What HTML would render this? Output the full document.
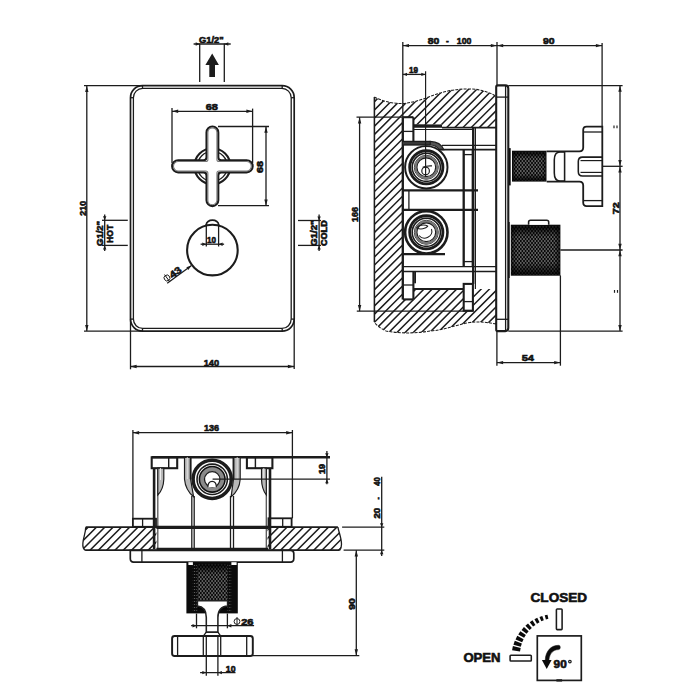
<!DOCTYPE html>
<html><head><meta charset="utf-8"><style>
html,body{margin:0;padding:0;background:#fff;width:700px;height:700px;overflow:hidden}
svg{display:block}
text{font-family:"Liberation Sans",sans-serif;fill:#111;stroke:#111;stroke-width:0.6px}
</style></head><body>
<svg width="700" height="700" viewBox="0 0 700 700">
<defs>
<pattern id="knurl" x="0" y="0" width="3.2" height="4.0" patternUnits="userSpaceOnUse">
<rect width="3.2" height="4.0" fill="#0a0a0a"/>
<ellipse cx="0.8" cy="1.0" rx="0.85" ry="0.7" fill="#b4b4b4"/>
<ellipse cx="2.4" cy="3.0" rx="0.85" ry="0.7" fill="#b4b4b4"/>
</pattern>
<linearGradient id="kshadeV" x1="0" y1="0" x2="0" y2="1">
<stop offset="0" stop-color="#000" stop-opacity="0.85"/>
<stop offset="0.22" stop-color="#000" stop-opacity="0.1"/>
<stop offset="0.75" stop-color="#000" stop-opacity="0.1"/>
<stop offset="1" stop-color="#000" stop-opacity="0.85"/>
</linearGradient>
<linearGradient id="kshadeH" x1="0" y1="0" x2="1" y2="0">
<stop offset="0" stop-color="#000" stop-opacity="0.5"/>
<stop offset="0.12" stop-color="#000" stop-opacity="0"/>
<stop offset="0.88" stop-color="#000" stop-opacity="0"/>
<stop offset="1" stop-color="#000" stop-opacity="0.5"/>
</linearGradient>
<pattern id="knurl2" x="0" y="0" width="2.2" height="3.0" patternUnits="userSpaceOnUse">
<rect width="2.2" height="3.0" fill="#0b0b0b"/>
<circle cx="1.1" cy="1.5" r="0.5" fill="#888"/>
</pattern>
</defs>
<rect width="700" height="700" fill="#fff"/>
<rect x="130.50" y="85.70" width="163.70" height="245.40" rx="12" stroke="#1c1c1c" stroke-width="1.69" fill="none"/>
<rect x="133.40" y="88.40" width="157.80" height="240.00" rx="9.3" stroke="#1c1c1c" stroke-width="1.30" fill="none"/>
<line x1="142.50" y1="85.70" x2="142.50" y2="88.40" stroke="#1c1c1c" stroke-width="1.30"/>
<line x1="130.50" y1="97.70" x2="133.40" y2="97.70" stroke="#1c1c1c" stroke-width="1.30"/>
<line x1="282.20" y1="85.70" x2="282.20" y2="88.40" stroke="#1c1c1c" stroke-width="1.30"/>
<line x1="294.20" y1="97.70" x2="291.20" y2="97.70" stroke="#1c1c1c" stroke-width="1.30"/>
<line x1="142.50" y1="331.10" x2="142.50" y2="328.40" stroke="#1c1c1c" stroke-width="1.30"/>
<line x1="130.50" y1="319.10" x2="133.40" y2="319.10" stroke="#1c1c1c" stroke-width="1.30"/>
<line x1="282.20" y1="331.10" x2="282.20" y2="328.40" stroke="#1c1c1c" stroke-width="1.30"/>
<line x1="294.20" y1="319.10" x2="291.20" y2="319.10" stroke="#1c1c1c" stroke-width="1.30"/>
<line x1="84.00" y1="85.70" x2="142.50" y2="85.70" stroke="#1c1c1c" stroke-width="1.30"/>
<line x1="84.00" y1="331.10" x2="142.50" y2="331.10" stroke="#1c1c1c" stroke-width="1.30"/>
<line x1="86.80" y1="85.70" x2="86.80" y2="331.10" stroke="#1c1c1c" stroke-width="1.30"/>
<polygon points="86.80,85.90 88.50,91.90 85.10,91.90" fill="#1c1c1c"/>
<polygon points="86.80,330.90 85.10,324.90 88.50,324.90" fill="#1c1c1c"/>
<text x="85.70" y="215.70" font-size="9" font-weight="bold" textLength="14.80" lengthAdjust="spacingAndGlyphs" transform="rotate(-90 85.70 215.70)">210</text>
<line x1="130.50" y1="319.10" x2="130.50" y2="369.30" stroke="#1c1c1c" stroke-width="1.30"/>
<line x1="294.20" y1="319.10" x2="294.20" y2="369.00" stroke="#1c1c1c" stroke-width="1.30"/>
<line x1="130.40" y1="366.50" x2="294.10" y2="366.50" stroke="#1c1c1c" stroke-width="1.30"/>
<polygon points="130.60,366.50 136.60,364.80 136.60,368.20" fill="#1c1c1c"/>
<polygon points="293.90,366.50 287.90,368.20 287.90,364.80" fill="#1c1c1c"/>
<text x="203.70" y="365.50" font-size="9.5" font-weight="bold" text-anchor="start" textLength="15.40" lengthAdjust="spacingAndGlyphs">140</text>
<line x1="199.70" y1="43.60" x2="199.70" y2="82.00" stroke="#1c1c1c" stroke-width="1.30"/>
<line x1="224.30" y1="43.60" x2="224.30" y2="82.00" stroke="#1c1c1c" stroke-width="1.30"/>
<line x1="193.60" y1="44.00" x2="230.70" y2="44.00" stroke="#1c1c1c" stroke-width="1.30"/>
<polygon points="199.70,44.00 195.70,45.70 195.70,42.30" fill="#1c1c1c"/>
<polygon points="224.30,44.00 228.30,42.30 228.30,45.70" fill="#1c1c1c"/>
<text x="199.00" y="42.50" font-size="8.6" font-weight="bold" text-anchor="start" textLength="24.60" lengthAdjust="spacingAndGlyphs">G1/2&quot;</text>
<polygon points="212.20,53.60 205.40,65.00 209.30,65.00 209.30,77.00 215.00,77.00 215.00,65.00 218.90,65.00" fill="#1c1c1c"/>
<line x1="172.00" y1="111.30" x2="252.60" y2="111.30" stroke="#1c1c1c" stroke-width="1.30"/>
<line x1="172.00" y1="108.00" x2="172.00" y2="163.00" stroke="#1c1c1c" stroke-width="1.30"/>
<line x1="252.60" y1="108.60" x2="252.60" y2="163.00" stroke="#1c1c1c" stroke-width="1.30"/>
<polygon points="172.20,111.30 178.20,109.60 178.20,113.00" fill="#1c1c1c"/>
<polygon points="252.40,111.30 246.40,113.00 246.40,109.60" fill="#1c1c1c"/>
<text x="205.70" y="110.20" font-size="9.2" font-weight="bold" text-anchor="start" textLength="12.20" lengthAdjust="spacingAndGlyphs">68</text>
<line x1="266.00" y1="126.50" x2="266.00" y2="205.70" stroke="#1c1c1c" stroke-width="1.30"/>
<line x1="218.00" y1="126.50" x2="269.00" y2="126.50" stroke="#1c1c1c" stroke-width="1.30"/>
<line x1="218.00" y1="205.70" x2="269.00" y2="205.70" stroke="#1c1c1c" stroke-width="1.30"/>
<polygon points="266.00,126.70 267.70,132.70 264.30,132.70" fill="#1c1c1c"/>
<polygon points="266.00,205.50 264.30,199.50 267.70,199.50" fill="#1c1c1c"/>
<text x="263.40" y="173.00" font-size="9.2" font-weight="bold" textLength="12.00" lengthAdjust="spacingAndGlyphs" transform="rotate(-90 263.40 173.00)">68</text>
<circle cx="212.40" cy="166.30" r="18.00" stroke="#1c1c1c" stroke-width="2.08" fill="none"/>
<circle cx="212.40" cy="166.30" r="15.00" stroke="#1c1c1c" stroke-width="1.30" fill="none"/>
<path d="M206.5,157.20000000000002 V132.4 A5.9,5.9 0 0 1 218.3,132.4 V157.20000000000002 Q218.3,160.20000000000002 221.3,160.20000000000002 H246.6 A6.1,6.1 0 0 1 246.6,172.4 H221.3 Q218.3,172.4 218.3,175.4 V200.20000000000002 A5.9,5.9 0 0 1 206.5,200.20000000000002 V175.4 Q206.5,172.4 203.5,172.4 H178.20000000000002 A6.1,6.1 0 0 1 178.20000000000002,160.20000000000002 H203.5 Q206.5,160.20000000000002 206.5,157.20000000000002 Z" stroke="#1c1c1c" stroke-width="2.08" fill="#fff" />
<path d="M207.9,159.40000000000003 V132.4 A4.5,4.5 0 0 1 216.9,132.4 V159.40000000000003 Q216.9,161.60000000000002 219.1,161.60000000000002 H246.60000000000002 A4.7,4.7 0 0 1 246.60000000000002,171.0 H219.1 Q216.9,171.0 216.9,173.2 V200.20000000000002 A4.5,4.5 0 0 1 207.9,200.20000000000002 V173.2 Q207.9,171.0 205.70000000000002,171.0 H178.2 A4.7,4.7 0 0 1 178.2,161.60000000000002 H205.70000000000002 Q207.9,161.60000000000002 207.9,159.40000000000003 Z" stroke="#777" stroke-width="1.04" fill="none" />
<circle cx="212.40" cy="250.10" r="25.30" stroke="#1c1c1c" stroke-width="2.08" fill="none"/>
<path d="M206.3,226 V224.5 A6.15,4.3 0 0 1 218.6,224.5 V226" stroke="#1c1c1c" stroke-width="1.69" fill="none" />
<line x1="206.30" y1="224.00" x2="206.30" y2="246.50" stroke="#1c1c1c" stroke-width="1.30"/>
<line x1="218.60" y1="224.00" x2="218.60" y2="246.50" stroke="#1c1c1c" stroke-width="1.30"/>
<line x1="200.60" y1="244.20" x2="224.10" y2="244.20" stroke="#1c1c1c" stroke-width="1.30"/>
<polygon points="206.30,244.20 202.30,245.90 202.30,242.50" fill="#1c1c1c"/>
<polygon points="218.60,244.20 222.60,242.50 222.60,245.90" fill="#1c1c1c"/>
<text x="207.00" y="242.50" font-size="8.6" font-weight="bold" text-anchor="start" textLength="9.00" lengthAdjust="spacingAndGlyphs">10</text>
<line x1="167.20" y1="283.20" x2="191.20" y2="265.70" stroke="#1c1c1c" stroke-width="1.30"/>
<polygon points="191.40,265.60 188.36,269.92 186.36,267.17" fill="#1c1c1c"/>
<g transform="translate(166.4,282.6) rotate(-36)"><circle cx="3.2" cy="-3.4" r="2.9" fill="none" stroke="#111" stroke-width="0.9"/><line x1="3.2" y1="-7.6" x2="3.2" y2="1.0" stroke="#111" stroke-width="0.9"/><text x="7.0" y="0.3" font-size="9.6" font-weight="bold" textLength="12.6" lengthAdjust="spacingAndGlyphs">43</text></g>
<line x1="104.70" y1="214.60" x2="104.70" y2="251.10" stroke="#1c1c1c" stroke-width="1.30"/>
<line x1="102.00" y1="220.30" x2="127.80" y2="220.30" stroke="#1c1c1c" stroke-width="1.30"/>
<line x1="102.00" y1="245.40" x2="127.80" y2="245.40" stroke="#1c1c1c" stroke-width="1.30"/>
<polygon points="104.70,220.30 103.00,216.30 106.40,216.30" fill="#1c1c1c"/>
<polygon points="104.70,245.40 106.40,249.40 103.00,249.40" fill="#1c1c1c"/>
<text x="103.30" y="246.00" font-size="8.6" font-weight="bold" textLength="25.10" lengthAdjust="spacingAndGlyphs" transform="rotate(-90 103.30 246.00)">G1/2&quot;</text>
<text x="113.50" y="242.80" font-size="8.6" font-weight="bold" textLength="17.90" lengthAdjust="spacingAndGlyphs" transform="rotate(-90 113.50 242.80)">HOT</text>
<line x1="319.10" y1="214.60" x2="319.10" y2="251.10" stroke="#1c1c1c" stroke-width="1.30"/>
<line x1="298.00" y1="220.50" x2="321.00" y2="220.50" stroke="#1c1c1c" stroke-width="1.30"/>
<line x1="298.00" y1="245.40" x2="321.00" y2="245.40" stroke="#1c1c1c" stroke-width="1.30"/>
<polygon points="319.10,220.50 317.40,216.50 320.80,216.50" fill="#1c1c1c"/>
<polygon points="319.10,245.40 320.80,249.40 317.40,249.40" fill="#1c1c1c"/>
<text x="317.10" y="246.00" font-size="8.6" font-weight="bold" textLength="25.70" lengthAdjust="spacingAndGlyphs" transform="rotate(-90 317.10 246.00)">G1/2&quot;</text>
<text x="326.80" y="246.00" font-size="8.6" font-weight="bold" textLength="25.70" lengthAdjust="spacingAndGlyphs" transform="rotate(-90 326.80 246.00)">COLD</text>
<clipPath id="wallclip"><path clip-rule="evenodd" d="M374.4,97 C380,100 390,103.5 401.4,103.5 C415,103 425,98 435.7,94.4 C447,90.5 458,88.8 471.4,88.9 C480,89.3 489,92 496.2,96.3 L496.2,324 C485,322 478,321.5 470,322.5 C455,325 445,330 430,331 C415,333.5 400,333.6 386,331 C380,328 376,325 374.4,322 Z M402.8,117.2 H413.4 V124.4 H442 V127.7 H496.2 V289 H473.2 V310.7 H463.7 V289 H413.4 V299.4 H402.8 Z"/></clipPath>
<path d="M87.14,340L347.14,80M95.31,340L355.31,80M103.48,340L363.48,80M111.65,340L371.65,80M119.82,340L379.82,80M127.99,340L387.99,80M136.16,340L396.16,80M144.33,340L404.33,80M152.50,340L412.50,80M160.67,340L420.67,80M168.84,340L428.84,80M177.01,340L437.01,80M185.18,340L445.18,80M193.35,340L453.35,80M201.52,340L461.52,80M209.69,340L469.69,80M217.86,340L477.86,80M226.03,340L486.03,80M234.20,340L494.20,80M242.37,340L502.37,80M250.54,340L510.54,80M258.71,340L518.71,80M266.88,340L526.88,80M275.05,340L535.05,80M283.22,340L543.22,80M291.39,340L551.39,80M299.56,340L559.56,80M307.73,340L567.73,80M315.90,340L575.90,80M324.07,340L584.07,80M332.24,340L592.24,80M340.41,340L600.41,80M348.58,340L608.58,80M356.75,340L616.75,80M364.92,340L624.92,80M373.09,340L633.09,80M381.26,340L641.26,80M389.43,340L649.43,80M397.60,340L657.60,80M405.77,340L665.77,80M413.94,340L673.94,80M422.11,340L682.11,80M430.28,340L690.28,80M438.45,340L698.45,80M446.62,340L706.62,80M454.79,340L714.79,80M462.96,340L722.96,80M471.13,340L731.13,80M479.30,340L739.30,80M487.47,340L747.47,80M495.64,340L755.64,80M503.81,340L763.81,80M511.98,340L771.98,80" stroke="#1c1c1c" stroke-width="1.5" clip-path="url(#wallclip)"/>
<line x1="374.40" y1="97.00" x2="374.40" y2="322.00" stroke="#1c1c1c" stroke-width="1.56"/>
<path d="M374.4,97 C380,100 390,103.5 401.4,103.5 C415,103 425,98 435.7,94.4 C447,90.5 458,88.8 471.4,88.9 C480,89.3 489,92 496.2,96.3" stroke="#1c1c1c" stroke-width="1.04" fill="none" stroke-dasharray="3 1.2"/>
<path d="M496.2,324 C485,322 478,321.5 470,322.5 C455,325 445,330 430,331 C415,333.5 400,333.6 386,331 C380,328 376,325 374.4,322" stroke="#1c1c1c" stroke-width="1.04" fill="none" stroke-dasharray="3 1.2"/>
<line x1="402.80" y1="45.60" x2="602.10" y2="45.60" stroke="#1c1c1c" stroke-width="1.30"/>
<line x1="402.80" y1="42.00" x2="402.80" y2="117.20" stroke="#1c1c1c" stroke-width="1.30"/>
<line x1="602.10" y1="42.90" x2="602.10" y2="126.70" stroke="#1c1c1c" stroke-width="1.30"/>
<polygon points="403.00,45.60 409.00,43.90 409.00,47.30" fill="#1c1c1c"/>
<polygon points="496.80,45.60 490.80,47.30 490.80,43.90" fill="#1c1c1c"/>
<polygon points="497.20,45.60 503.20,43.90 503.20,47.30" fill="#1c1c1c"/>
<polygon points="601.90,45.60 595.90,47.30 595.90,43.90" fill="#1c1c1c"/>
<text x="427.70" y="44.20" font-size="9.2" font-weight="bold" text-anchor="start" textLength="11.60" lengthAdjust="spacingAndGlyphs">80</text>
<text x="446.10" y="44.20" font-size="9.2" font-weight="bold" text-anchor="start" textLength="2.80" lengthAdjust="spacingAndGlyphs">-</text>
<text x="456.80" y="44.20" font-size="9.2" font-weight="bold" text-anchor="start" textLength="14.60" lengthAdjust="spacingAndGlyphs">100</text>
<text x="542.90" y="44.20" font-size="9.2" font-weight="bold" text-anchor="start" textLength="11.60" lengthAdjust="spacingAndGlyphs">90</text>
<line x1="402.80" y1="74.40" x2="425.50" y2="74.40" stroke="#1c1c1c" stroke-width="1.30"/>
<polygon points="403.00,74.40 407.00,72.70 407.00,76.10" fill="#1c1c1c"/>
<polygon points="425.30,74.40 421.30,76.10 421.30,72.70" fill="#1c1c1c"/>
<text x="409.00" y="72.90" font-size="8.6" font-weight="bold" text-anchor="start" textLength="9.00" lengthAdjust="spacingAndGlyphs">19</text>
<line x1="359.60" y1="117.20" x2="359.60" y2="311.20" stroke="#1c1c1c" stroke-width="1.30"/>
<line x1="356.50" y1="117.20" x2="402.80" y2="117.20" stroke="#1c1c1c" stroke-width="1.30"/>
<line x1="356.80" y1="311.20" x2="473.20" y2="311.20" stroke="#1c1c1c" stroke-width="1.30"/>
<polygon points="359.60,117.40 361.30,123.40 357.90,123.40" fill="#1c1c1c"/>
<polygon points="359.60,311.00 357.90,305.00 361.30,305.00" fill="#1c1c1c"/>
<text x="358.00" y="222.00" font-size="9" font-weight="bold" textLength="15.00" lengthAdjust="spacingAndGlyphs" transform="rotate(-90 358.00 222.00)">166</text>
<line x1="402.80" y1="117.20" x2="402.80" y2="299.50" stroke="#1c1c1c" stroke-width="2.34"/>
<line x1="402.80" y1="117.20" x2="413.40" y2="117.20" stroke="#1c1c1c" stroke-width="2.08"/>
<line x1="413.40" y1="117.20" x2="413.40" y2="141.50" stroke="#1c1c1c" stroke-width="2.08"/>
<line x1="402.80" y1="131.40" x2="413.40" y2="131.40" stroke="#1c1c1c" stroke-width="1.30"/>
<polygon points="413.40,124.30 442.00,124.50 442.00,127.70 413.40,127.70" fill="#1c1c1c"/>
<line x1="442.00" y1="127.70" x2="496.20" y2="127.70" stroke="#1c1c1c" stroke-width="1.69"/>
<line x1="413.40" y1="129.40" x2="473.20" y2="129.40" stroke="#1c1c1c" stroke-width="1.04"/>
<rect x="402.8" y="141.4" width="27.5" height="3.6" fill="#3a3a3a"/>
<line x1="402.80" y1="141.40" x2="430.30" y2="141.40" stroke="#1c1c1c" stroke-width="1.30"/>
<line x1="402.80" y1="145.00" x2="430.30" y2="145.00" stroke="#1c1c1c" stroke-width="1.30"/>
<path d="M430.3,141.4 Q440.5,141.8 443.8,149.7 L439.2,149.7 Q436.5,145.2 430.3,145.0 Z" stroke="#1c1c1c" stroke-width="1.17" fill="#555" />
<line x1="442.00" y1="145.40" x2="496.20" y2="145.40" stroke="#1c1c1c" stroke-width="1.43"/>
<line x1="439.00" y1="149.70" x2="496.20" y2="149.70" stroke="#1c1c1c" stroke-width="1.69"/>
<circle cx="426.30" cy="167.30" r="21.20" stroke="#1c1c1c" stroke-width="1.95" fill="#fff"/>
<circle cx="426.30" cy="167.30" r="16.60" stroke="#1c1c1c" stroke-width="2.86" fill="none"/>
<circle cx="426.30" cy="167.30" r="14.10" stroke="#1c1c1c" stroke-width="1.56" fill="none"/>
<circle cx="426.30" cy="167.30" r="12.00" stroke="#1c1c1c" stroke-width="0.91" fill="none"/>
<circle cx="426.30" cy="167.30" r="10.80" stroke="#777" stroke-width="1.95" fill="none"/>
<circle cx="426.30" cy="167.30" r="9.40" stroke="#1c1c1c" stroke-width="1.17" fill="none"/>
<circle cx="426.30" cy="232.30" r="21.20" stroke="#1c1c1c" stroke-width="2.60" fill="#fff"/>
<circle cx="426.30" cy="232.30" r="16.60" stroke="#1c1c1c" stroke-width="2.86" fill="none"/>
<circle cx="426.30" cy="232.30" r="14.10" stroke="#1c1c1c" stroke-width="1.56" fill="none"/>
<circle cx="426.30" cy="232.30" r="12.00" stroke="#1c1c1c" stroke-width="0.91" fill="none"/>
<circle cx="426.30" cy="232.30" r="10.80" stroke="#777" stroke-width="1.95" fill="none"/>
<circle cx="426.30" cy="232.30" r="9.40" stroke="#1c1c1c" stroke-width="1.17" fill="none"/>
<line x1="425.60" y1="71.30" x2="425.60" y2="176.00" stroke="#1c1c1c" stroke-width="1.17"/>
<circle cx="425.60" cy="170.90" r="3.80" stroke="#1c1c1c" stroke-width="1.17" fill="none"/>
<path d="M422.7,167.3 Q427,165.5 432,165.9" stroke="#1c1c1c" stroke-width="1.17" fill="none" />
<path d="M416.5,228 A7,4.2 0 0 1 428,226.2 M416.5,228 A8,5.5 0 0 0 428,226.2 M419,235.5 A7.2,7.2 0 0 0 431.5,229" stroke="#1c1c1c" stroke-width="1.04" fill="none" />
<line x1="402.80" y1="190.30" x2="478.00" y2="190.30" stroke="#1c1c1c" stroke-width="2.34"/>
<line x1="402.80" y1="209.90" x2="478.00" y2="209.90" stroke="#1c1c1c" stroke-width="2.34"/>
<line x1="408.90" y1="190.30" x2="408.90" y2="209.90" stroke="#1c1c1c" stroke-width="1.30"/>
<line x1="402.80" y1="254.20" x2="445.00" y2="254.20" stroke="#1c1c1c" stroke-width="2.34"/>
<line x1="402.80" y1="266.70" x2="496.20" y2="266.70" stroke="#1c1c1c" stroke-width="1.30"/>
<line x1="402.80" y1="271.50" x2="496.20" y2="271.50" stroke="#1c1c1c" stroke-width="1.30"/>
<line x1="413.40" y1="289.00" x2="464.00" y2="289.00" stroke="#1c1c1c" stroke-width="1.82"/>
<line x1="402.80" y1="299.40" x2="413.40" y2="299.40" stroke="#1c1c1c" stroke-width="2.08"/>
<line x1="413.40" y1="271.50" x2="413.40" y2="299.40" stroke="#1c1c1c" stroke-width="2.08"/>
<line x1="415.10" y1="271.50" x2="415.10" y2="283.30" stroke="#1c1c1c" stroke-width="1.82"/>
<line x1="402.80" y1="285.00" x2="413.40" y2="285.00" stroke="#1c1c1c" stroke-width="1.30"/>
<rect x="463.70" y="283.90" width="9.20" height="26.80" rx="0" stroke="#1c1c1c" stroke-width="2.08" fill="none"/>
<line x1="463.70" y1="301.60" x2="472.90" y2="301.60" stroke="#1c1c1c" stroke-width="1.30"/>
<line x1="463.70" y1="150.00" x2="463.70" y2="266.10" stroke="#1c1c1c" stroke-width="2.34"/>
<line x1="472.30" y1="150.00" x2="472.30" y2="266.10" stroke="#1c1c1c" stroke-width="1.30"/>
<line x1="463.70" y1="154.60" x2="472.30" y2="154.60" stroke="#1c1c1c" stroke-width="1.30"/>
<line x1="463.70" y1="261.60" x2="472.90" y2="261.60" stroke="#1c1c1c" stroke-width="1.30"/>
<line x1="473.20" y1="127.70" x2="473.20" y2="283.90" stroke="#1c1c1c" stroke-width="2.34"/>
<line x1="475.40" y1="127.70" x2="475.40" y2="289.00" stroke="#1c1c1c" stroke-width="1.17"/>
<path d="M496.2,87 Q496.2,85.4 497.8,85.4 H505.3 Q508.3,85.4 508.3,88.4 V328.1 Q508.3,331.1 505.3,331.1 H497.8 Q496.2,331.1 496.2,329.5 Z" stroke="#1c1c1c" stroke-width="2.08" fill="#fff" />
<line x1="505.60" y1="85.40" x2="505.60" y2="331.10" stroke="#1c1c1c" stroke-width="1.30"/>
<line x1="496.20" y1="97.10" x2="508.30" y2="97.10" stroke="#1c1c1c" stroke-width="1.30"/>
<line x1="496.20" y1="319.30" x2="508.30" y2="319.30" stroke="#1c1c1c" stroke-width="1.30"/>
<line x1="497.00" y1="42.00" x2="497.00" y2="85.40" stroke="#1c1c1c" stroke-width="1.30"/>
<line x1="508.30" y1="85.60" x2="622.60" y2="85.60" stroke="#1c1c1c" stroke-width="1.30"/>
<line x1="602.10" y1="166.30" x2="622.60" y2="166.30" stroke="#1c1c1c" stroke-width="1.30"/>
<line x1="560.40" y1="250.00" x2="622.60" y2="250.00" stroke="#1c1c1c" stroke-width="1.30"/>
<line x1="508.30" y1="331.10" x2="622.60" y2="331.10" stroke="#1c1c1c" stroke-width="1.30"/>
<line x1="620.00" y1="85.60" x2="620.00" y2="331.10" stroke="#1c1c1c" stroke-width="1.30"/>
<polygon points="620.00,85.80 621.70,91.80 618.30,91.80" fill="#1c1c1c"/>
<polygon points="620.00,166.10 618.30,160.10 621.70,160.10" fill="#1c1c1c"/>
<polygon points="620.00,166.50 621.70,172.50 618.30,172.50" fill="#1c1c1c"/>
<polygon points="620.00,249.80 618.30,243.80 621.70,243.80" fill="#1c1c1c"/>
<polygon points="620.00,250.20 621.70,256.20 618.30,256.20" fill="#1c1c1c"/>
<polygon points="620.00,330.90 618.30,324.90 621.70,324.90" fill="#1c1c1c"/>
<text x="618.60" y="214.30" font-size="9" font-weight="bold" textLength="12.00" lengthAdjust="spacingAndGlyphs" transform="rotate(-90 618.60 214.30)">72</text>
<line x1="614.00" y1="125.50" x2="614.00" y2="128.30" stroke="#1c1c1c" stroke-width="1.17"/>
<line x1="617.00" y1="125.50" x2="617.00" y2="128.30" stroke="#1c1c1c" stroke-width="1.17"/>
<line x1="614.50" y1="290.00" x2="614.50" y2="292.80" stroke="#1c1c1c" stroke-width="1.17"/>
<line x1="617.50" y1="290.00" x2="617.50" y2="292.80" stroke="#1c1c1c" stroke-width="1.17"/>
<line x1="496.90" y1="331.00" x2="496.90" y2="365.70" stroke="#1c1c1c" stroke-width="1.30"/>
<line x1="560.40" y1="275.40" x2="560.40" y2="365.70" stroke="#1c1c1c" stroke-width="1.30"/>
<line x1="496.90" y1="362.60" x2="560.40" y2="362.60" stroke="#1c1c1c" stroke-width="1.30"/>
<polygon points="497.10,362.60 503.10,360.90 503.10,364.30" fill="#1c1c1c"/>
<polygon points="560.20,362.60 554.20,364.30 554.20,360.90" fill="#1c1c1c"/>
<text x="521.70" y="360.90" font-size="9.2" font-weight="bold" text-anchor="start" textLength="12.30" lengthAdjust="spacingAndGlyphs">54</text>
<rect x="509.00" y="148.10" width="1.70" height="37.30" rx="0" stroke="#1c1c1c" stroke-width="0.00" fill="#111"/>
<rect x="512.00" y="150.70" width="34.70" height="30.90" rx="0" stroke="#1c1c1c" stroke-width="0.00" fill="#0b0b0b"/>
<rect x="513.0" y="152.5" width="32.7" height="28" fill="url(#knurl)"/>
<rect x="513.0" y="152.5" width="32.7" height="28" fill="url(#kshadeV)"/>
<rect x="513.0" y="152.5" width="32.7" height="28" fill="url(#kshadeH)"/>
<path d="M546.7,151.4 H579.4 Q583.2,151 583.2,147.4 V130 Q583.2,126.6 586.6,126.6 H602.3 V206.1 H586.6 Q583.2,206.1 583.2,202.6 V185.5 Q583.2,181.7 579.4,181.7 H546.7" stroke="#1c1c1c" stroke-width="1.82" fill="#fff" />
<line x1="583.20" y1="132.00" x2="602.30" y2="132.00" stroke="#1c1c1c" stroke-width="1.30"/>
<line x1="583.20" y1="200.60" x2="602.30" y2="200.60" stroke="#1c1c1c" stroke-width="1.30"/>
<path d="M564.6,152 V181 M564.6,152 H560 Q554.3,152 554.3,160 V173 Q554.3,181 560,181 H564.6" stroke="#1c1c1c" stroke-width="1.56" fill="none" />
<path d="M602.3,157.1 H582.5 Q578.3,157.1 578.3,161.5 V171.5 Q578.3,176 582.5,176 H602.3" stroke="#1c1c1c" stroke-width="1.56" fill="none" />
<line x1="580.50" y1="160.60" x2="602.30" y2="160.60" stroke="#1c1c1c" stroke-width="1.17"/>
<line x1="580.50" y1="172.40" x2="602.30" y2="172.40" stroke="#1c1c1c" stroke-width="1.17"/>
<rect x="510.80" y="224.70" width="49.60" height="51.00" rx="0" stroke="#1c1c1c" stroke-width="0.00" fill="#0b0b0b"/>
<rect x="511.6" y="226.5" width="48" height="48" fill="url(#knurl)"/>
<rect x="511.6" y="226.5" width="48" height="48" fill="url(#kshadeV)"/>
<rect x="511.6" y="226.5" width="48" height="48" fill="url(#kshadeH)"/>
<rect x="508.20" y="222.00" width="1.50" height="56.00" rx="0" stroke="#1c1c1c" stroke-width="0.00" fill="#111"/>
<path d="M528.6,224.7 V222 Q528.6,220.2 530.5,220.2 H546.8 Q548.7,220.2 548.7,222 V224.7" stroke="#1c1c1c" stroke-width="1.56" fill="#fff" />
<line x1="132.90" y1="432.70" x2="292.40" y2="432.70" stroke="#1c1c1c" stroke-width="1.30"/>
<line x1="132.90" y1="430.00" x2="132.90" y2="518.70" stroke="#1c1c1c" stroke-width="1.30"/>
<line x1="292.40" y1="430.00" x2="292.40" y2="518.30" stroke="#1c1c1c" stroke-width="1.30"/>
<polygon points="133.10,432.70 139.10,431.00 139.10,434.40" fill="#1c1c1c"/>
<polygon points="292.20,432.70 286.20,434.40 286.20,431.00" fill="#1c1c1c"/>
<text x="204.00" y="431.30" font-size="9.2" font-weight="bold" text-anchor="start" textLength="15.10" lengthAdjust="spacingAndGlyphs">136</text>
<line x1="326.90" y1="451.00" x2="326.90" y2="484.30" stroke="#1c1c1c" stroke-width="1.30"/>
<polygon points="326.90,457.30 325.20,453.30 328.60,453.30" fill="#1c1c1c"/>
<polygon points="326.90,479.20 328.60,483.20 325.20,483.20" fill="#1c1c1c"/>
<text x="324.50" y="474.00" font-size="8.6" font-weight="bold" textLength="10.00" lengthAdjust="spacingAndGlyphs" transform="rotate(-90 324.50 474.00)">19</text>
<clipPath id="wl"><path d="M85.7,527.2 H156.4 V550.2 H85.1 C83.5,549 82.6,546 82.9,543 C83.2,538 85.7,533 85.7,527.2 Z"/></clipPath>
<path d="M34.45,556.00L70.45,520.00M42.75,556.00L78.75,520.00M51.05,556.00L87.05,520.00M59.35,556.00L95.35,520.00M67.65,556.00L103.65,520.00M75.95,556.00L111.95,520.00M84.25,556.00L120.25,520.00M92.55,556.00L128.55,520.00M100.85,556.00L136.85,520.00M109.15,556.00L145.15,520.00M117.45,556.00L153.45,520.00M125.75,556.00L161.75,520.00M134.05,556.00L170.05,520.00M142.35,556.00L178.35,520.00M150.65,556.00L186.65,520.00M158.95,556.00L194.95,520.00M167.25,556.00L203.25,520.00" stroke="#1c1c1c" stroke-width="1.5" clip-path="url(#wl)"/>
<clipPath id="wr"><path d="M267.5,527.2 H337.9 C339,533 341.5,538 341.5,544.3 C341.5,547 340.8,549 339.7,550.2 H267.5 Z"/></clipPath>
<path d="M216.65,556.00L252.65,520.00M224.95,556.00L260.95,520.00M233.25,556.00L269.25,520.00M241.55,556.00L277.55,520.00M249.85,556.00L285.85,520.00M258.15,556.00L294.15,520.00M266.45,556.00L302.45,520.00M274.75,556.00L310.75,520.00M283.05,556.00L319.05,520.00M291.35,556.00L327.35,520.00M299.65,556.00L335.65,520.00M307.95,556.00L343.95,520.00M316.25,556.00L352.25,520.00M324.55,556.00L360.55,520.00M332.85,556.00L368.85,520.00M341.15,556.00L377.15,520.00M349.45,556.00L385.45,520.00" stroke="#1c1c1c" stroke-width="1.5" clip-path="url(#wr)"/>
<line x1="85.70" y1="527.20" x2="156.40" y2="527.20" stroke="#1c1c1c" stroke-width="1.69"/>
<line x1="85.10" y1="550.20" x2="156.40" y2="550.20" stroke="#1c1c1c" stroke-width="1.69"/>
<line x1="267.50" y1="527.20" x2="337.90" y2="527.20" stroke="#1c1c1c" stroke-width="1.69"/>
<line x1="267.50" y1="550.20" x2="339.70" y2="550.20" stroke="#1c1c1c" stroke-width="1.69"/>
<path d="M85.7,527.2 C85.7,533 83.2,538 82.9,543 C82.6,546 83.5,549 85.1,550.2" stroke="#1c1c1c" stroke-width="1.30" fill="none" />
<path d="M337.9,527.2 C339,533 341.5,538 341.5,544.3 C341.5,547 340.8,549 339.7,550.2" stroke="#1c1c1c" stroke-width="1.30" fill="none" />
<line x1="342.10" y1="527.20" x2="384.30" y2="527.20" stroke="#1c1c1c" stroke-width="1.30"/>
<line x1="343.60" y1="550.20" x2="384.30" y2="550.20" stroke="#1c1c1c" stroke-width="1.30"/>
<line x1="381.70" y1="476.80" x2="381.70" y2="556.00" stroke="#1c1c1c" stroke-width="1.30"/>
<polygon points="381.70,527.20 380.00,523.20 383.40,523.20" fill="#1c1c1c"/>
<polygon points="381.70,550.20 383.40,554.20 380.00,554.20" fill="#1c1c1c"/>
<text x="380.50" y="518.60" font-size="9" font-weight="bold" textLength="10.70" lengthAdjust="spacingAndGlyphs" transform="rotate(-90 380.50 518.60)">20</text>
<text x="380.50" y="485.70" font-size="9" font-weight="bold" textLength="8.60" lengthAdjust="spacingAndGlyphs" transform="rotate(-90 380.50 485.70)">40</text>
<text x="380.50" y="499.50" font-size="9" font-weight="bold" textLength="2.40" lengthAdjust="spacingAndGlyphs" transform="rotate(-90 380.50 499.50)">-</text>
<line x1="356.30" y1="550.20" x2="356.30" y2="655.50" stroke="#1c1c1c" stroke-width="1.30"/>
<polygon points="356.30,550.40 358.00,556.40 354.60,556.40" fill="#1c1c1c"/>
<polygon points="356.30,655.30 354.60,649.30 358.00,649.30" fill="#1c1c1c"/>
<line x1="252.00" y1="655.60" x2="359.30" y2="655.60" stroke="#1c1c1c" stroke-width="1.30"/>
<text x="354.90" y="609.70" font-size="9" font-weight="bold" textLength="11.60" lengthAdjust="spacingAndGlyphs" transform="rotate(-90 354.90 609.70)">90</text>
<line x1="151.70" y1="457.30" x2="330.00" y2="457.30" stroke="#1c1c1c" stroke-width="2.47"/>
<rect x="151.70" y="457.30" width="25.50" height="10.90" rx="0" stroke="#1c1c1c" stroke-width="2.08" fill="none"/>
<line x1="168.70" y1="457.30" x2="168.70" y2="468.20" stroke="#1c1c1c" stroke-width="1.43"/>
<rect x="246.90" y="457.30" width="25.50" height="10.90" rx="0" stroke="#1c1c1c" stroke-width="2.08" fill="none"/>
<line x1="255.40" y1="457.30" x2="255.40" y2="468.20" stroke="#1c1c1c" stroke-width="1.43"/>
<line x1="154.10" y1="468.20" x2="154.10" y2="549.00" stroke="#1c1c1c" stroke-width="2.60"/>
<line x1="157.80" y1="468.20" x2="157.80" y2="549.00" stroke="#555" stroke-width="1.30"/>
<line x1="270.00" y1="468.20" x2="270.00" y2="549.00" stroke="#1c1c1c" stroke-width="2.60"/>
<line x1="266.30" y1="468.20" x2="266.30" y2="549.00" stroke="#555" stroke-width="1.30"/>
<path d="M157.8,468.2 H163.8 V479.2 Q163.5,489 157.8,495 Z" stroke="#1c1c1c" stroke-width="1.17" fill="#b8b8b8" />
<path d="M266.3,468.2 H261.5 V479.2 Q261.8,489 266.3,495 Z" stroke="#1c1c1c" stroke-width="1.17" fill="#b8b8b8" />
<line x1="160.50" y1="468.20" x2="160.50" y2="480.00" stroke="#eee" stroke-width="1.04"/>
<line x1="263.80" y1="468.20" x2="263.80" y2="480.00" stroke="#eee" stroke-width="1.04"/>
<path d="M184.5,457.3 V479.2 Q185.5,490 193.6,496.8 L190.6,479.2 V457.3 Z" stroke="#1c1c1c" stroke-width="1.17" fill="#b8b8b8" />
<line x1="190.60" y1="457.30" x2="190.60" y2="479.20" stroke="#1c1c1c" stroke-width="1.82"/>
<path d="M240.2,457.3 V479.2 Q239.5,490 231.1,496.8 L233.5,479.2 V457.3 Z" stroke="#1c1c1c" stroke-width="1.17" fill="#b8b8b8" />
<line x1="233.50" y1="457.30" x2="233.50" y2="479.20" stroke="#1c1c1c" stroke-width="1.82"/>
<line x1="187.30" y1="457.30" x2="187.30" y2="479.00" stroke="#ddd" stroke-width="1.04"/>
<line x1="237.20" y1="457.30" x2="237.20" y2="479.00" stroke="#ddd" stroke-width="1.04"/>
<line x1="191.80" y1="496.00" x2="191.80" y2="549.00" stroke="#1c1c1c" stroke-width="1.30"/>
<line x1="194.20" y1="496.00" x2="194.20" y2="549.00" stroke="#1c1c1c" stroke-width="1.30"/>
<line x1="230.50" y1="496.00" x2="230.50" y2="549.00" stroke="#1c1c1c" stroke-width="1.30"/>
<line x1="233.50" y1="496.00" x2="233.50" y2="549.00" stroke="#1c1c1c" stroke-width="1.30"/>
<rect x="132.90" y="518.70" width="23.10" height="8.10" rx="0" stroke="#1c1c1c" stroke-width="1.82" fill="none"/>
<line x1="142.60" y1="518.70" x2="142.60" y2="526.80" stroke="#1c1c1c" stroke-width="1.30"/>
<rect x="268.50" y="518.30" width="23.10" height="8.50" rx="0" stroke="#1c1c1c" stroke-width="1.82" fill="none"/>
<line x1="282.70" y1="518.30" x2="282.70" y2="526.80" stroke="#1c1c1c" stroke-width="1.30"/>
<line x1="154.10" y1="526.80" x2="270.00" y2="526.80" stroke="#1c1c1c" stroke-width="2.34"/>
<line x1="156.40" y1="528.40" x2="268.00" y2="528.40" stroke="#1c1c1c" stroke-width="1.04"/>
<line x1="156.40" y1="548.90" x2="268.00" y2="548.90" stroke="#1c1c1c" stroke-width="2.08"/>
<circle cx="212.20" cy="479.30" r="19.10" stroke="#1c1c1c" stroke-width="3.51" fill="#fff"/>
<circle cx="212.20" cy="479.30" r="15.20" stroke="#1c1c1c" stroke-width="1.56" fill="none"/>
<circle cx="212.20" cy="479.30" r="10.20" stroke="#8a8a8a" stroke-width="4.94" fill="none"/>
<circle cx="212.20" cy="479.30" r="12.80" stroke="#111" stroke-width="1.56" fill="none"/>
<circle cx="212.20" cy="479.30" r="7.70" stroke="#1c1c1c" stroke-width="1.30" fill="#fff"/>
<path d="M207.8,487.2 Q208,481.3 212.1,481.3 Q216.4,481.3 216.4,487.2" stroke="#1c1c1c" stroke-width="1.30" fill="#fff" />
<line x1="212.60" y1="479.20" x2="330.00" y2="479.20" stroke="#1c1c1c" stroke-width="1.30"/>
<path d="M130.3,550.4 H290.5 Q293.8,550.4 293.8,553.6 V558.5 Q293.8,562.1 290.5,562.1 H133.6 Q130.3,562.1 130.3,558.5 Z" stroke="#1c1c1c" stroke-width="1.69" fill="#fff" />
<line x1="141.90" y1="550.40" x2="141.90" y2="562.10" stroke="#1c1c1c" stroke-width="1.30"/>
<line x1="282.40" y1="550.40" x2="282.40" y2="562.10" stroke="#1c1c1c" stroke-width="1.30"/>
<rect x="186.40" y="562.20" width="51.40" height="51.20" rx="0" stroke="#1c1c1c" stroke-width="0.00" fill="#0b0b0b"/>
<rect x="197.4" y="564.5" width="30.2" height="36.3" fill="url(#knurl)"/>
<rect x="197.4" y="564.5" width="30.2" height="45" fill="url(#kshadeV)"/>
<rect x="192.9" y="564" width="4.5" height="49" fill="url(#knurl2)"/>
<rect x="227.6" y="564" width="3.8" height="49" fill="url(#knurl2)"/>
<rect x="188.40" y="562.20" width="4.50" height="2.80" rx="0" stroke="#1c1c1c" stroke-width="0.00" fill="#fff"/>
<rect x="231.40" y="562.20" width="5.20" height="2.80" rx="0" stroke="#1c1c1c" stroke-width="0.00" fill="#fff"/>
<path d="M197.4,600.8 H227.6 V606 C221,606.5 217.9,610 217.9,617.4 V632.1 H206.3 V617.4 C206.3,610 203,606.5 197.4,606 Z" stroke="#222" stroke-width="1.56" fill="#fff" />
<path d="M206.3,632.1 L203.3,636 H220.7 L217.9,632.1" stroke="#1c1c1c" stroke-width="1.30" fill="none" />
<line x1="196.50" y1="613.50" x2="196.50" y2="628.30" stroke="#1c1c1c" stroke-width="1.30"/>
<line x1="227.40" y1="613.50" x2="227.40" y2="628.30" stroke="#1c1c1c" stroke-width="1.30"/>
<line x1="191.10" y1="625.70" x2="254.10" y2="625.70" stroke="#1c1c1c" stroke-width="1.30"/>
<polygon points="196.50,625.70 192.50,627.40 192.50,624.00" fill="#1c1c1c"/>
<polygon points="227.40,625.70 231.40,624.00 231.40,627.40" fill="#1c1c1c"/>
<circle cx="237.00" cy="621.50" r="2.90" stroke="#1c1c1c" stroke-width="0.98" fill="none"/>
<line x1="237.00" y1="617.00" x2="237.00" y2="626.00" stroke="#1c1c1c" stroke-width="0.98"/>
<text x="241.20" y="624.50" font-size="8.8" font-weight="bold" text-anchor="start" textLength="12.30" lengthAdjust="spacingAndGlyphs">26</text>
<rect x="172.10" y="636.00" width="80.70" height="19.90" rx="2.5" stroke="#1c1c1c" stroke-width="1.95" fill="#fff"/>
<line x1="177.60" y1="636.00" x2="177.60" y2="655.90" stroke="#1c1c1c" stroke-width="1.30"/>
<line x1="246.70" y1="636.00" x2="246.70" y2="655.90" stroke="#1c1c1c" stroke-width="1.30"/>
<line x1="203.30" y1="636.00" x2="203.30" y2="655.90" stroke="#1c1c1c" stroke-width="1.30"/>
<line x1="206.30" y1="636.00" x2="206.30" y2="655.90" stroke="#1c1c1c" stroke-width="1.30"/>
<line x1="217.90" y1="636.00" x2="217.90" y2="655.90" stroke="#1c1c1c" stroke-width="1.30"/>
<line x1="220.70" y1="636.00" x2="220.70" y2="655.90" stroke="#1c1c1c" stroke-width="1.30"/>
<line x1="206.30" y1="655.90" x2="206.30" y2="675.80" stroke="#1c1c1c" stroke-width="1.30"/>
<line x1="217.90" y1="655.90" x2="217.90" y2="675.80" stroke="#1c1c1c" stroke-width="1.30"/>
<line x1="200.10" y1="672.60" x2="235.50" y2="672.60" stroke="#1c1c1c" stroke-width="1.30"/>
<polygon points="206.30,672.60 202.30,674.30 202.30,670.90" fill="#1c1c1c"/>
<polygon points="217.90,672.60 221.90,670.90 221.90,674.30" fill="#1c1c1c"/>
<text x="225.80" y="671.50" font-size="8.8" font-weight="bold" text-anchor="start" textLength="9.70" lengthAdjust="spacingAndGlyphs">10</text>
<text x="530.60" y="602.10" font-size="12.4" font-weight="bold" text-anchor="start" textLength="56.40" lengthAdjust="spacingAndGlyphs">CLOSED</text>
<text x="463.40" y="662.10" font-size="12.4" font-weight="bold" text-anchor="start" textLength="37.20" lengthAdjust="spacingAndGlyphs">OPEN</text>
<rect x="556.40" y="609.00" width="5.70" height="20.60" rx="0.8" stroke="#1c1c1c" stroke-width="1.56" fill="none"/>
<rect x="510.10" y="655.30" width="21.20" height="5.70" rx="0.8" stroke="#1c1c1c" stroke-width="1.56" fill="none"/>
<rect x="537.30" y="635.90" width="44.00" height="44.50" rx="0" stroke="#1c1c1c" stroke-width="1.69" fill="none"/>
<line x1="556.40" y1="680.40" x2="562.10" y2="680.40" stroke="#1c1c1c" stroke-width="2.34"/>
<polygon points="519.99,651.46 512.07,650.30 512.92,645.99 520.68,647.91" fill="#0a0a0a"/>
<polygon points="520.76,646.79 513.46,644.75 514.78,640.75 521.86,643.47" fill="#0a0a0a"/>
<polygon points="522.13,642.23 515.54,639.45 517.27,635.81 523.59,639.18" fill="#0a0a0a"/>
<polygon points="524.08,637.87 518.26,634.48 520.34,631.23 525.85,635.11" fill="#0a0a0a"/>
<polygon points="526.58,633.76 521.57,629.91 523.94,627.09 528.61,631.33" fill="#0a0a0a"/>
<polygon points="529.60,629.98 525.42,625.83 528.00,623.44 531.83,627.91" fill="#0a0a0a"/>
<polygon points="533.10,626.60 529.74,622.29 532.46,620.34 535.47,624.89" fill="#0a0a0a"/>
<polygon points="537.02,623.68 534.45,619.33 537.24,617.82 539.48,622.34" fill="#0a0a0a"/>
<polygon points="541.30,621.26 539.48,617.02 542.28,615.93 543.80,620.29" fill="#0a0a0a"/>
<polygon points="545.89,619.40 544.73,615.37 547.48,614.68 548.37,618.78" fill="#0a0a0a"/>
<path d="M545.2,660.2 C545.6,651 551,645.3 558.5,645.3 Q560.3,645.3 560.3,647.3 Q560.3,649.5 558.5,649.6 C553,649.8 549.6,653.5 548.9,660.2 Z" stroke="#1c1c1c" stroke-width="0.52" fill="#0a0a0a" />
<polygon points="541.90,660.00 551.60,660.00 546.70,668.90" fill="#0a0a0a"/>
<text x="553.60" y="668.40" font-size="10.2" font-weight="bold" text-anchor="start" textLength="13.10" lengthAdjust="spacingAndGlyphs">90</text>
<circle cx="569.90" cy="661.60" r="1.30" stroke="#1c1c1c" stroke-width="1.17" fill="none"/>
</svg>
</body></html>
